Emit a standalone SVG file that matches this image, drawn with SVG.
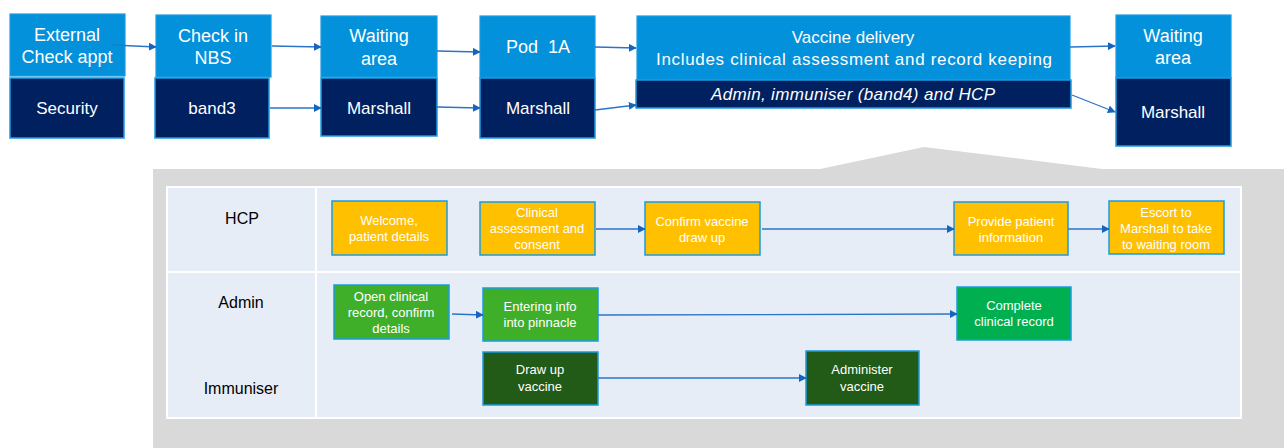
<svg xmlns="http://www.w3.org/2000/svg" width="1284" height="448" viewBox="0 0 1284 448">
<defs>
<style>
text{font-family:"Liberation Sans",Arial,sans-serif;text-anchor:middle}
.lb{fill:#0291da;stroke:#1b9be0;stroke-width:1.2}
.dk{fill:#002060;stroke:#1b9be0;stroke-width:1.5}
.t1{fill:#fff;font-size:18px}
.t2{fill:#fff;font-size:17px}
.or{fill:#ffc000;stroke:#1b9be0;stroke-width:1.5}
.gr{fill:#3faf2a;stroke:#1b9be0;stroke-width:1.5}
.gr2{fill:#00b050;stroke:#1b9be0;stroke-width:1.5}
.dg{fill:#225a17;stroke:#1b9be0;stroke-width:1.5}
.s{fill:#fff;font-size:13px}
.lane{fill:#000;font-size:16px}
.c{fill:none;stroke:#2a74c8;stroke-width:1.3;marker-end:url(#ah)}
</style>
<marker id="ah" viewBox="0 0 10 10" refX="9" refY="5" markerWidth="8" markerHeight="8" markerUnits="userSpaceOnUse" orient="auto">
<path d="M0,0 L10,5 L0,10 z" fill="#1565c0"/>
</marker>
</defs>
<rect width="1284" height="448" fill="#fff"/>

<g id="panel">
<polygon points="153,169 820,169 924,147 1102,169 1284,169 1284,448 153,448" fill="#d9d9d9"/>
<rect x="167" y="187" width="1074" height="231" fill="#e7edf7" stroke="#fff" stroke-width="2"/>
<line x1="316" y1="187" x2="316" y2="418" stroke="#fff" stroke-width="2"/>
<line x1="167" y1="272" x2="1241" y2="272" stroke="#fff" stroke-width="2"/>
<text class="lane" x="242" y="224">HCP</text>
<text class="lane" x="241" y="308">Admin</text>
<text class="lane" x="241" y="394">Immuniser</text>
</g>

<g id="external">
<rect class="lb" x="10" y="14" width="115" height="62"/>
<text class="t1" x="67" y="41">External</text>
<text class="t1" x="67" y="63">Check appt</text>
<rect class="dk" x="10" y="78" width="114" height="60"/>
<text class="t2" x="67" y="114">Security</text>
</g>

<g id="checkin">
<rect class="lb" x="156" y="15" width="115" height="62"/>
<text class="t1" x="213" y="42">Check in</text>
<text class="t1" x="213" y="64">NBS</text>
<rect class="dk" x="155" y="78" width="114" height="60"/>
<text class="t2" x="212" y="114">band3</text>
</g>

<g id="waiting1">
<rect class="lb" x="321" y="16" width="116" height="61"/>
<text class="t1" x="379" y="42">Waiting</text>
<text class="t1" x="379" y="65">area</text>
<rect class="dk" x="321" y="78" width="116" height="58"/>
<text class="t2" x="379" y="114">Marshall</text>
</g>

<g id="pod">
<rect class="lb" x="480" y="16" width="115" height="62"/>
<text class="t1" x="538" y="53">Pod&#160; 1A</text>
<rect class="dk" x="480" y="78" width="115" height="60"/>
<text class="t2" x="538" y="114">Marshall</text>
</g>

<g id="vaccine">
<rect class="lb" x="637" y="16" width="433" height="64"/>
<text class="t2" x="853" y="43">Vaccine delivery</text>
<text class="t2" x="854" y="65" textLength="396" lengthAdjust="spacing">Includes clinical assessment and record keeping</text>
<rect class="dk" x="636" y="80" width="435" height="28"/>
<text class="t2" x="853" y="100" font-style="italic" textLength="284" lengthAdjust="spacing">Admin, immuniser (band4) and HCP</text>
</g>

<g id="waiting2">
<rect class="lb" x="1116" y="15" width="115" height="63"/>
<text class="t1" x="1173" y="42">Waiting</text>
<text class="t1" x="1173" y="64">area</text>
<rect class="dk" x="1116" y="78" width="115" height="68"/>
<text class="t2" x="1173" y="118">Marshall</text>
</g>

<g id="welcome">
<rect class="or" x="332" y="201" width="115" height="54"/>
<text class="s" x="389" y="225">Welcome,</text>
<text class="s" x="389" y="241">patient details</text>
</g>
<g id="clinical">
<rect class="or" x="480" y="202" width="115" height="53"/>
<text class="s" x="537" y="217">Clinical</text>
<text class="s" x="537" y="233">assessment and</text>
<text class="s" x="537" y="249">consent</text>
</g>
<g id="confirm">
<rect class="or" x="645" y="202" width="115" height="53"/>
<text class="s" x="702" y="226">Confirm vaccine</text>
<text class="s" x="702" y="242">draw up</text>
</g>
<g id="provide">
<rect class="or" x="954" y="202" width="114" height="53"/>
<text class="s" x="1011" y="226">Provide patient</text>
<text class="s" x="1011" y="242">information</text>
</g>
<g id="escort">
<rect class="or" x="1109" y="201" width="115" height="53"/>
<text class="s" x="1166" y="217">Escort to</text>
<text class="s" x="1166" y="233">Marshall to take</text>
<text class="s" x="1166" y="249">to waiting room</text>
</g>
<g id="open">
<rect class="gr" x="334" y="285" width="115" height="54"/>
<text class="s" x="391" y="301">Open clinical</text>
<text class="s" x="391" y="317">record, confirm</text>
<text class="s" x="391" y="333">details</text>
</g>
<g id="entering">
<rect class="gr" x="483" y="288" width="115" height="53"/>
<text class="s" x="540" y="311">Entering info</text>
<text class="s" x="540" y="327">into pinnacle</text>
</g>
<g id="complete">
<rect class="gr2" x="957" y="287" width="114" height="53"/>
<text class="s" x="1014" y="310">Complete</text>
<text class="s" x="1014" y="326">clinical record</text>
</g>
<g id="drawup">
<rect class="dg" x="483" y="352" width="115" height="53"/>
<text class="s" x="540" y="374">Draw up</text>
<text class="s" x="540" y="391">vaccine</text>
</g>
<g id="administer">
<rect class="dg" x="806" y="351" width="113" height="54"/>
<text class="s" x="862" y="374">Administer</text>
<text class="s" x="862" y="391">vaccine</text>
</g>

<g id="connectors">
<line class="c" x1="113" y1="45" x2="156" y2="47"/>
<line class="c" x1="272" y1="46" x2="321" y2="47"/>
<line class="c" x1="437" y1="51" x2="480" y2="52"/>
<line class="c" x1="595" y1="47" x2="636" y2="48"/>
<line class="c" x1="1070" y1="47" x2="1115" y2="46"/>
<line class="c" x1="270" y1="108" x2="321" y2="108"/>
<line class="c" x1="437" y1="107" x2="480" y2="108"/>
<line class="c" x1="595" y1="110" x2="636" y2="105"/>
<line class="c" x1="1072" y1="95" x2="1115" y2="112"/>
<line class="c" x1="596" y1="229" x2="645" y2="229"/>
<line class="c" x1="762" y1="229" x2="954" y2="229"/>
<line class="c" x1="1068" y1="229" x2="1109" y2="229"/>
<line class="c" x1="452" y1="314" x2="483" y2="315"/>
<line class="c" x1="598" y1="315" x2="957" y2="314"/>
<line class="c" x1="598" y1="378" x2="806" y2="378"/>
</g>
</svg>
